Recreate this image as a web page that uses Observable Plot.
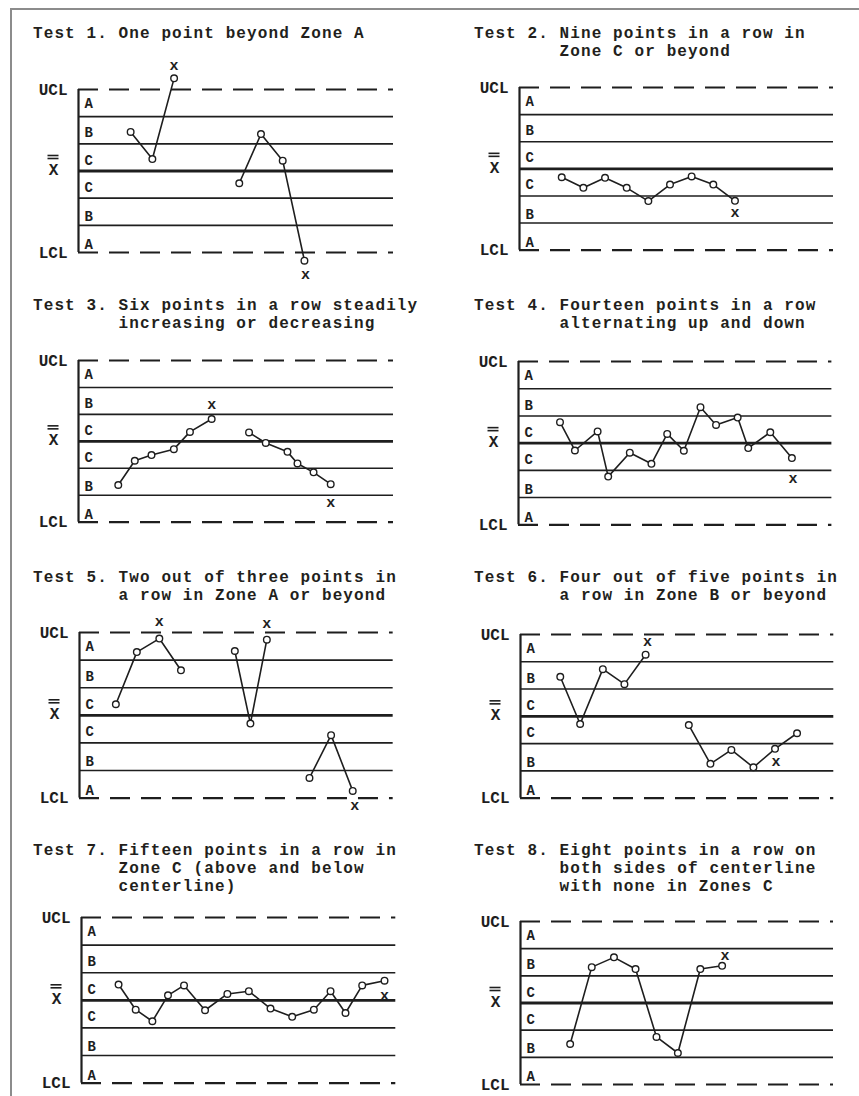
<!DOCTYPE html>
<html><head><meta charset="utf-8">
<script src="https://cdn.jsdelivr.net/npm/d3@7"></script>
<script src="https://cdn.jsdelivr.net/npm/@observablehq/plot@0.6"></script>
<style>
html,body{margin:0;padding:0;background:#fff;}
#page{position:relative;width:859px;height:1096px;overflow:hidden;background:#fff;}
#frame{position:absolute;left:10px;top:8px;width:900px;height:1200px;border-left:2px solid #8c8c8c;border-top:2px solid #8c8c8c;}
.title{position:absolute;font-family:"Liberation Mono",monospace;font-weight:bold;font-size:16px;letter-spacing:1.1px;line-height:18px;white-space:pre;color:#231f1c;}
.panel{position:absolute;}
</style></head><body><div id="page"><div id="frame"></div></div>
<script>
// ---- text ----
const titles = [
  "Test 1. One point beyond Zone A",
  "Test 2. Nine points in a row in\n        Zone C or beyond",
  "Test 3. Six points in a row steadily\n        increasing or decreasing",
  "Test 4. Fourteen points in a row\n        alternating up and down",
  "Test 5. Two out of three points in\n        a row in Zone A or beyond",
  "Test 6. Four out of five points in\n        a row in Zone B or beyond",
  "Test 7. Fifteen points in a row in\n        Zone C (above and below\n        centerline)",
  "Test 8. Eight points in a row on\n        both sides of centerline\n        with none in Zones C"
];
const limitLabels = ["UCL", "LCL"];
const limitValues = [3, -3];
const zoneLines = [2, 1, -1, -2];
const zoneLabels = ["A", "B", "C", "C", "B", "A"];
const zoneLabelY = [2.48, 1.4, 0.4, -0.59, -1.69, -2.72];
const centerLabel = "X";
const flagText = "x";

// ---- data: sample position, value in sigma units, run id, flagged point indices ----
const t1X = [2.4, 3.4, 4.4, 7.4, 8.4, 9.4, 10.4];
const t1Y = [1.44, 0.44, 3.41, -0.45, 1.36, 0.38, -3.30];
const t1Run = [1, 1, 1, 2, 2, 2, 2];
const t1Flags = [2, 6];

const t2X = [1.95, 2.95, 3.95, 4.95, 5.95, 6.95, 7.95, 8.95, 9.95];
const t2Y = [-0.31, -0.70, -0.33, -0.70, -1.19, -0.58, -0.28, -0.58, -1.18];
const t2Run = [1, 1, 1, 1, 1, 1, 1, 1, 1];
const t2Flags = [8];

const t3X = [1.83, 2.59, 3.36, 4.39, 5.13, 6.13, 7.85, 8.62, 9.62, 10.08, 10.82, 11.61];
const t3Y = [-1.62, -0.72, -0.51, -0.29, 0.35, 0.83, 0.33, -0.06, -0.39, -0.82, -1.15, -1.59];
const t3Run = [1, 1, 1, 1, 1, 1, 2, 2, 2, 2, 2, 2];
const t3Flags = [5, 11];

const t4X = [1.92, 2.61, 3.66, 4.15, 5.15, 6.15, 6.88, 7.65, 8.42, 9.14, 10.14, 10.63, 11.65, 12.65];
const t4Y = [0.77, -0.27, 0.43, -1.23, -0.35, -0.76, 0.34, -0.28, 1.32, 0.67, 0.94, -0.18, 0.40, -0.55];
const t4Run = [1, 1, 1, 1, 1, 1, 1, 1, 1, 1, 1, 1, 1, 1];
const t4Flags = [13];

const t5X = [1.68, 2.65, 3.69, 4.69, 7.18, 7.90, 8.66, 10.63, 11.63, 12.63];
const t5Y = [0.40, 2.29, 2.78, 1.63, 2.33, -0.30, 2.74, -2.27, -0.72, -2.74];
const t5Run = [1, 1, 1, 1, 2, 2, 2, 3, 3, 3];
const t5Flags = [2, 6, 9];

const t6X = [1.84, 2.76, 3.81, 4.81, 5.79, 7.79, 8.79, 9.76, 10.78, 11.78, 12.80];
const t6Y = [1.45, -0.28, 1.73, 1.18, 2.26, -0.32, -1.74, -1.23, -1.87, -1.19, -0.62];
const t6Run = [1, 1, 1, 1, 1, 2, 2, 2, 2, 2, 2];
const t6Flags = [4, 9];

const t7X = [1.71, 2.50, 3.27, 3.99, 4.73, 5.70, 6.73, 7.72, 8.72, 9.72, 10.72, 11.49, 12.18, 12.95, 13.98];
const t7Y = [0.57, -0.34, -0.76, 0.18, 0.54, -0.36, 0.23, 0.33, -0.30, -0.60, -0.34, 0.33, -0.46, 0.54, 0.71];
const t7Run = [1, 1, 1, 1, 1, 1, 1, 1, 1, 1, 1, 1, 1, 1, 1];
const t7Flags = [14];

const t8X = [2.30, 3.30, 4.33, 5.33, 6.30, 7.29, 8.33, 9.34];
const t8Y = [-1.51, 1.32, 1.68, 1.25, -1.25, -1.84, 1.25, 1.37];
const t8Run = [1, 1, 1, 1, 1, 1, 1, 1];
const t8Flags = [7];

// ---- layout (pixels) ----
const layout = [
  {tx: 33, ty: 25, axis: 78, ucl: 89, lcl: 252, end: 393, fdy: [-13, 14], fdx: [0, 1]},
  {tx: 474, ty: 25, axis: 519, ucl: 87.3, lcl: 250, end: 833, fdy: [11], fdx: [0]},
  {tx: 33, ty: 297, axis: 78, ucl: 360, lcl: 521.7, end: 393, fdy: [-15, 18], fdx: [0, 0]},
  {tx: 474, ty: 297, axis: 518.3, ucl: 361, lcl: 524.3, end: 831.7, fdy: [20], fdx: [1]},
  {tx: 33, ty: 569, axis: 79.3, ucl: 631.7, lcl: 797.3, end: 393, fdy: [-17, -16, 14], fdx: [0, 0, 2]},
  {tx: 474, ty: 569, axis: 520, ucl: 634, lcl: 797.7, end: 833.3, fdy: [-14, 12], fdx: [2, 1]},
  {tx: 33, ty: 842, axis: 80.7, ucl: 916.7, lcl: 1082.3, end: 395, fdy: [14], fdx: [0]},
  {tx: 474, ty: 842, axis: 520, ucl: 921, lcl: 1084, end: 833, fdy: [-11], fdx: [3]}
];
const series = [
  [t1X, t1Y, t1Run, t1Flags], [t2X, t2Y, t2Run, t2Flags],
  [t3X, t3Y, t3Run, t3Flags], [t4X, t4Y, t4Run, t4Flags],
  [t5X, t5Y, t5Run, t5Flags], [t6X, t6Y, t6Run, t6Flags],
  [t7X, t7Y, t7Run, t7Flags], [t8X, t8Y, t8Run, t8Flags]
];

const ink = "#1e1e1e";
const ML = 55, MR = 10, MT = 25, MB = 25;
const XDOM = 14.5;
const page = document.getElementById("page");

series.forEach(([X, Y, R, F], i) => {
  const g = layout[i];
  const t = document.createElement("div");
  t.className = "title";
  t.style.left = g.tx + "px";
  t.style.top = g.ty + "px";
  t.textContent = titles[i];
  page.appendChild(t);

  const data = X.map((x, k) => ({x, y: Y[k], run: R[k]}));
  const innerW = g.end - g.axis, innerH = g.lcl - g.ucl;
  const pxPerUnit = innerW / XDOM;
  // double bar over the centre-line label (in x units, left of the axis)
  const barX1 = -30.5 / pxPerUnit, barX2 = -19.5 / pxPerUnit;
  const flagMarks = F.map((k, j) => Plot.text([data[k]], {
    x: "x", y: "y", text: () => flagText, dy: g.fdy[j], dx: g.fdx[j],
    fontSize: 15, fontWeight: "bold", fill: ink, lineAnchor: "middle"
  }));

  const svg = Plot.plot({
    width: ML + innerW + MR,
    height: MT + innerH + MB,
    marginLeft: ML, marginRight: MR, marginTop: MT, marginBottom: MB,
    x: {domain: [0, XDOM], axis: null},
    y: {domain: [-3, 3], axis: null},
    style: {fontFamily: '"Liberation Mono", monospace', fontSize: "15px", color: ink, background: "transparent", overflow: "visible"},
    marks: [
      Plot.ruleY(zoneLines, {y: d => d, stroke: ink, strokeWidth: 1.6}),
      Plot.ruleY([0], {y: d => d, stroke: ink, strokeWidth: 2.8}),
      Plot.ruleY(limitValues, {y: d => d, stroke: ink, strokeWidth: 2.2, strokeDasharray: "20,11"}),
      Plot.ruleX([0], {x: d => d, y1: -3, y2: 3, stroke: ink, strokeWidth: 2.2}),
      Plot.text(limitValues, {x: () => 0, y: d => d, text: (d, k) => limitLabels[k], textAnchor: "end", dx: -11, fontSize: 16, fontWeight: "bold", fill: ink}),
      Plot.text([0], {x: () => 0, y: d => d, text: () => centerLabel, dx: -25, dy: -1, fontSize: 16, fontWeight: "bold", fill: ink}),
      Plot.ruleY([0], {y: d => d, x1: barX1, x2: barX2, dy: -15.5, stroke: ink, strokeWidth: 1.6}),
      Plot.ruleY([0], {y: d => d, x1: barX1, x2: barX2, dy: -12.5, stroke: ink, strokeWidth: 1.6}),
      Plot.text(zoneLabelY, {x: () => 0, y: d => d, text: (d, k) => zoneLabels[k], textAnchor: "start", dx: 6, fontSize: 14, fontWeight: "bold", fill: ink}),
      Plot.line(data, {x: "x", y: "y", z: "run", stroke: ink, strokeWidth: 1.6}),
      Plot.dot(data, {x: "x", y: "y", r: 3.3, fill: "white", stroke: ink, strokeWidth: 1.4}),
      ...flagMarks
    ]
  });
  svg.classList.add("panel");
  svg.style.left = (g.axis - ML) + "px";
  svg.style.top = (g.ucl - MT) + "px";
  page.appendChild(svg);
});
</script>
</body></html>
